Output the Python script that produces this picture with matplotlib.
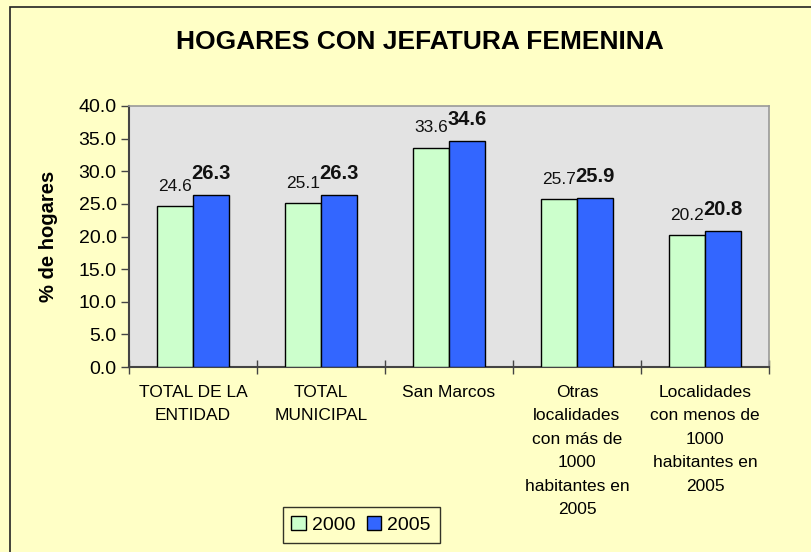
import matplotlib
matplotlib.use('Agg')
import matplotlib.pyplot as plt
from matplotlib.patches import Rectangle
import numpy as np

plt.rcParams['font.family'] = ['Liberation Sans', 'DejaVu Sans']

CATEGORIAS = ['TOTAL DE LA\nENTIDAD', 'TOTAL\nMUNICIPAL', 'San Marcos',
              'Otras\nlocalidades\ncon más de\n1000\nhabitantes en\n2005',
              'Localidades\ncon menos de\n1000\nhabitantes en\n2005']
VALORES_2000 = [24.6, 25.1, 33.6, 25.7, 20.2]
VALORES_2005 = [26.3, 26.3, 34.6, 25.9, 20.8]
SERIES = ['2000', '2005']
TICKS_Y = [0, 5, 10, 15, 20, 25, 30, 35, 40]

FONDO = '#FFFFC6'
VERDE = '#CCFFCC'
AZUL = '#3366FF'

fig = plt.figure(figsize=(8.11, 5.52), dpi=100)
fig.patch.set_facecolor(FONDO)

# marco exterior
fig.patches.append(Rectangle((10 / 811, -0.01), 1.0, 1 - 7 / 552 + 0.01,
                             transform=fig.transFigure, fill=False,
                             edgecolor='#222222', lw=1.2))

ax = fig.add_axes([129 / 811, 1 - 367 / 552, 640 / 811, 261 / 552])
ax.set_facecolor('#E3E3E3')

x = np.arange(len(CATEGORIAS))
ancho = 0.28
b1 = ax.bar(x - ancho / 2, VALORES_2000, ancho, color=VERDE, edgecolor='black',
            lw=1.0, label=SERIES[0], zorder=3)
b2 = ax.bar(x + ancho / 2, VALORES_2005, ancho, color=AZUL, edgecolor='black',
            lw=1.0, label=SERIES[1], zorder=3)

for r, v in zip(b1, VALORES_2000):
    ax.annotate(f'{v:.1f}', (r.get_x() + r.get_width() / 2, r.get_height()),
                xytext=(0, 9), textcoords='offset points', ha='center',
                va='bottom', fontsize=12.5, color='#111111')
for r, v in zip(b2, VALORES_2005):
    ax.annotate(f'{v:.1f}', (r.get_x() + r.get_width() / 2, r.get_height()),
                xytext=(0, 9), textcoords='offset points', ha='center',
                va='bottom', fontsize=14.5, fontweight='bold', color='#111111')

ax.set_xlim(-0.5, len(CATEGORIAS) - 0.5)
ax.set_ylim(0, 40)
ax.set_yticks(TICKS_Y)
ax.set_yticklabels([f'{t:.1f}' for t in TICKS_Y], fontsize=14)
ax.tick_params(axis='y', direction='out', length=6, width=1, color='#444444', pad=3)

ax.set_xticks(x)
ax.set_xticklabels(CATEGORIAS, fontsize=12.5, linespacing=1.7, va='top')
ax.tick_params(axis='x', which='major', length=0, pad=13)
ax.set_xticks(np.arange(-0.5, len(CATEGORIAS)), minor=True)
ax.tick_params(axis='x', which='minor', direction='inout', length=10,
               width=1, color='#444444')

for lado in ['left', 'bottom']:
    ax.spines[lado].set_color('#444444')
    ax.spines[lado].set_linewidth(1.5)
for lado in ['top', 'right']:
    ax.spines[lado].set_color('#999999')
    ax.spines[lado].set_linewidth(1.2)

ax.set_ylabel('% de hogares', fontsize=14.5, fontweight='bold')
ax.yaxis.set_label_coords(-71 / 640, 0.5)

fig.text(420 / 811, 1 - 42 / 552, 'HOGARES CON JEFATURA FEMENINA', ha='center',
         va='center', fontsize=19, fontweight='bold')

leg = fig.legend(handles=[b1, b2], labels=SERIES, loc='center',
                 bbox_to_anchor=(361 / 811, 1 - 525 / 552), ncol=2,
                 fontsize=14, frameon=True, fancybox=False, handlelength=0.75,
                 handleheight=0.75, handletextpad=0.3, columnspacing=0.6,
                 borderpad=0.45)
leg.get_frame().set_edgecolor('black')
leg.get_frame().set_facecolor(FONDO)
leg.get_frame().set_linewidth(1.0)

fig.savefig('out.png', dpi=100, facecolor=FONDO)
